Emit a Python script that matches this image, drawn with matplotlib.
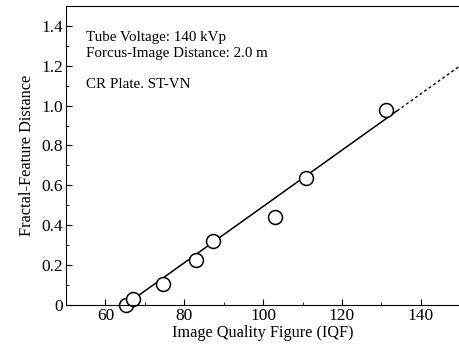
import numpy as np
import matplotlib.pyplot as plt
from matplotlib.ticker import MultipleLocator, FuncFormatter

plt.rcParams["font.family"] = ["Liberation Serif", "DejaVu Serif"]

# measured points
iqf = [65.3, 67.1, 74.5, 83.1, 87.3, 103.0, 111.0, 131.1]
ffd = [0.0, 0.03, 0.105, 0.227, 0.322, 0.44, 0.638, 0.979]

# regression line: solid over the data range, dashed extrapolation
slope = 0.01412
x0 = 65.0
solid_x = [65.0, 134.0]
dash_x = [134.0, 150.0]

fig = plt.figure(figsize=(4.6, 3.47), dpi=100)
ax = fig.add_axes([0.1435, 0.121, 0.857, 0.862])

sx = np.array(solid_x)
dx = np.array(dash_x)
ax.plot(sx, slope * (sx - x0), color="black", lw=1.1)
ax.plot(dx, slope * (dx - x0), color="black", lw=1.0, ls=(0, (2, 2)))
ax.plot(iqf, ffd, "o", ms=10, mfc="white", mec="black", mew=1.1, clip_on=False)

ax.set_xlim(50, 150)
ax.set_ylim(0, 1.5)
ax.xaxis.set_minor_locator(MultipleLocator(10))
ax.yaxis.set_major_locator(MultipleLocator(0.2))
ax.yaxis.set_minor_locator(MultipleLocator(0.1))
ax.set_xticks([60, 80, 100, 120, 140])
ax.yaxis.set_major_formatter(FuncFormatter(lambda v, p: "0" if abs(v) < 1e-9 else f"{v:.1f}"))
ax.tick_params(which="both", direction="in", labelsize=12.5, top=False, right=False)
ax.tick_params(which="major", length=4, pad=2)
ax.tick_params(which="minor", length=2.5)
ax.spines["right"].set_visible(False)

ax.set_xlabel("Image Quality Figure (IQF)", fontsize=11.7, labelpad=1)
ax.set_ylabel("Fractal-Feature Distance", fontsize=11.8, labelpad=5)

ax.text(0.05, 0.894, "Tube Voltage: 140 kVp", transform=ax.transAxes, fontsize=10.8, va="center")
ax.text(0.05, 0.840, "Forcus-Image Distance: 2.0 m", transform=ax.transAxes, fontsize=10.8, va="center")
ax.text(0.05, 0.736, "CR Plate. ST-VN", transform=ax.transAxes, fontsize=10.8, va="center")

fig.savefig("out.png", dpi=100)
